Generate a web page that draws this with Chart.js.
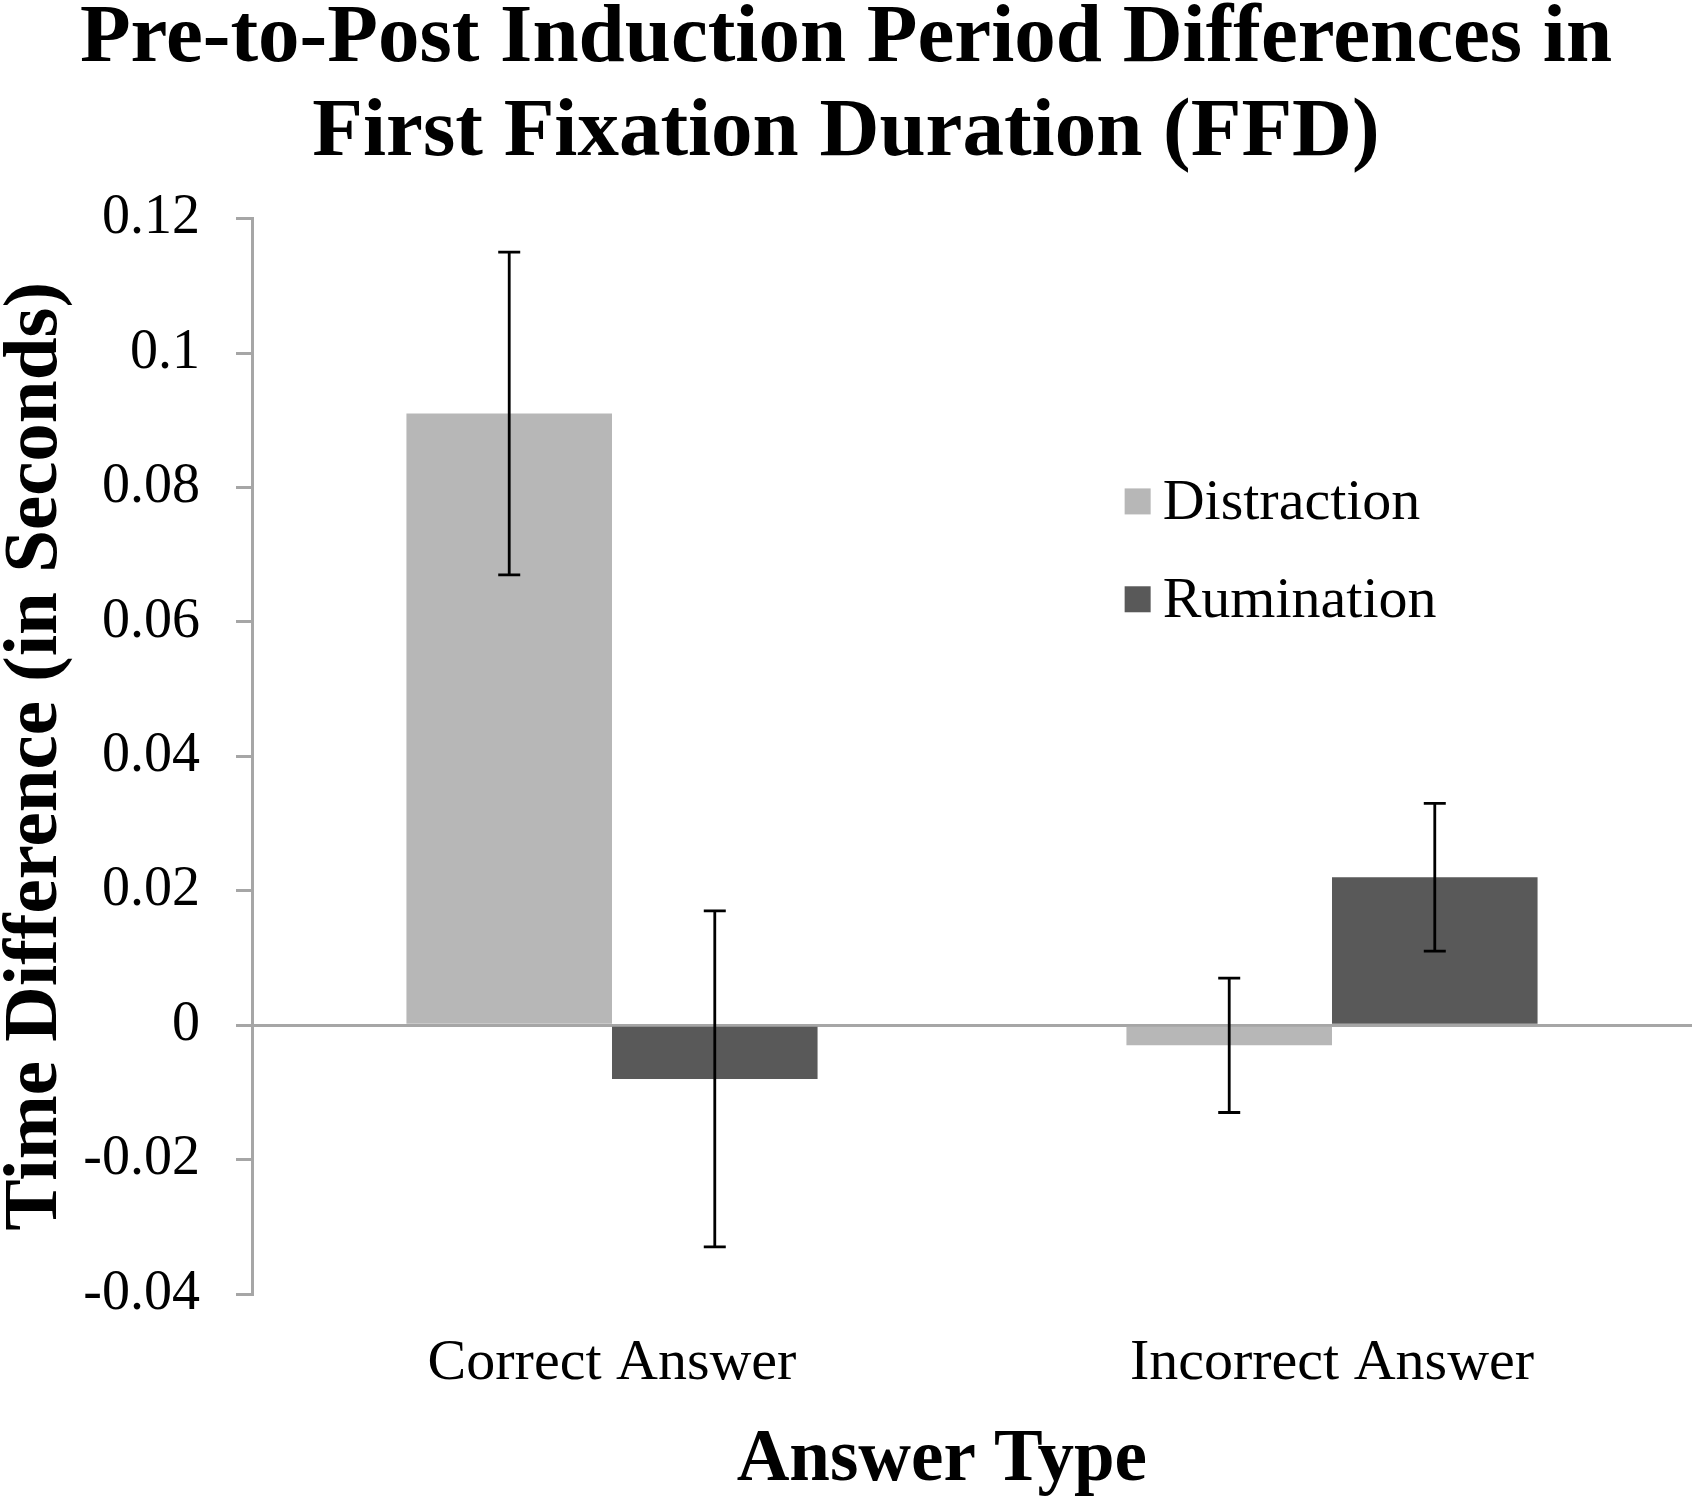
<!DOCTYPE html>
<html>
<head>
<meta charset="utf-8">
<script src="https://cdn.jsdelivr.net/npm/chart.js@4.4.1/dist/chart.umd.min.js"></script>
<style>
  html, body { margin: 0; padding: 0; background: #fff; }
  #wrap { width: 1692px; height: 1499px; }
</style>
</head>
<body>
<div id="wrap"><canvas id="ffdChart" width="1692" height="1499"></canvas></div>
<script>
// Values
const categories = ['Correct Answer', 'Incorrect Answer'];
const seriesNames = ['Distraction', 'Rumination'];
const distraction = [0.091, -0.003];
const rumination = [-0.008, 0.022];
const distractionErr = [0.024, 0.010];
const ruminationErr = [0.025, 0.011];
const yTicks = [-0.04, -0.02, 0, 0.02, 0.04, 0.06, 0.08, 0.1, 0.12];
const xAxisTitle = 'Answer Type';

const serif = "'Liberation Serif', 'Times New Roman', serif";
const axisGray = '#a6a6a6';
const colors = ['#b7b7b7', '#595959'];

// draws the +/- error bars from the bar elements
const errorBars = {
  id: 'errorBars',
  afterDatasetsDraw(chart) {
    const ctx = chart.ctx;
    const y = chart.scales.y;
    ctx.save();
    ctx.strokeStyle = '#000';
    ctx.lineWidth = 2.8;
    chart.data.datasets.forEach((ds, i) => {
      const meta = chart.getDatasetMeta(i);
      meta.data.forEach((bar, j) => {
        const v = ds.data[j];
        const e = ds.errors[j];
        const top = y.getPixelForValue(v + e);
        const bot = y.getPixelForValue(v - e);
        const cap = 11;
        ctx.beginPath();
        ctx.moveTo(bar.x, top); ctx.lineTo(bar.x, bot);
        ctx.moveTo(bar.x - cap, top); ctx.lineTo(bar.x + cap, top);
        ctx.moveTo(bar.x - cap, bot); ctx.lineTo(bar.x + cap, bot);
        ctx.stroke();
      });
    });
    ctx.restore();
  }
};

// legend inside the plot and the x axis title, placed like the Excel original
const annotations = {
  id: 'annotations',
  afterDraw(chart) {
    const ctx = chart.ctx;
    const a = chart.chartArea;
    const w = a.right - a.left, h = a.bottom - a.top;
    const x0 = a.left + w * 0.606;
    const rows = [0.263, 0.354];
    ctx.save();
    ctx.font = '58px ' + serif;
    ctx.textBaseline = 'middle';
    chart.data.datasets.forEach((ds, i) => {
      const cy = a.top + h * rows[i];
      ctx.fillStyle = ds.backgroundColor;
      ctx.fillRect(x0, cy - 13, 26, 26);
      ctx.fillStyle = '#000';
      ctx.fillText(ds.label, x0 + 38, cy + 2);
    });
    ctx.font = 'bold 73px ' + serif;
    ctx.textAlign = 'center';
    ctx.fillText(xAxisTitle, a.left + w * 0.479, chart.height - 38);
    ctx.restore();
  }
};

new Chart(document.getElementById('ffdChart'), {
  type: 'bar',
  data: {
    labels: categories,
    datasets: [
      { label: seriesNames[0], data: distraction, errors: distractionErr, backgroundColor: colors[0] },
      { label: seriesNames[1], data: rumination, errors: ruminationErr, backgroundColor: colors[1] }
    ]
  },
  options: {
    responsive: false,
    animation: false,
    devicePixelRatio: 1,
    layout: { padding: 0 },
    categoryPercentage: 0.571,
    barPercentage: 1,
    plugins: {
      legend: { display: false },
      tooltip: { enabled: false },
      title: {
        display: true,
        text: ['Pre-to-Post Induction Period Differences in', 'First Fixation Duration (FFD)'],
        color: '#000',
        font: { family: serif, size: 83, weight: 'bold', lineHeight: 1.13 },
        padding: { top: -7, bottom: 38 }
      }
    },
    scales: {
      x: {
        grid: { display: false },
        border: { display: false },
        ticks: { color: '#000', font: { family: serif, size: 58 }, padding: 27 },
        afterFit(s) { s.height = 205; }
      },
      y: {
        min: -0.04,
        max: 0.12,
        afterBuildTicks(s) { s.ticks = yTicks.map(v => ({ value: v })); },
        grid: {
          drawOnChartArea: true,
          drawTicks: true,
          tickLength: 16,
          lineWidth: 3,
          color: c => (c.tick && c.tick.value === 0 ? axisGray : 'rgba(0,0,0,0)'),
          tickColor: axisGray
        },
        border: { display: true, color: axisGray, width: 3 },
        ticks: {
          color: '#000',
          font: { family: serif, size: 56 },
          padding: 36,
          callback: v => String(Number(v.toFixed(2)))
        },
        title: {
          display: true,
          text: 'Time Difference (in Seconds)',
          color: '#000',
          font: { family: serif, size: 77, weight: 'bold', lineHeight: 0.95 },
          padding: 0
        },
        afterFit(s) { s.width = 252; }
      }
    }
  },
  plugins: [errorBars, annotations]
});
</script>
</body>
</html>
